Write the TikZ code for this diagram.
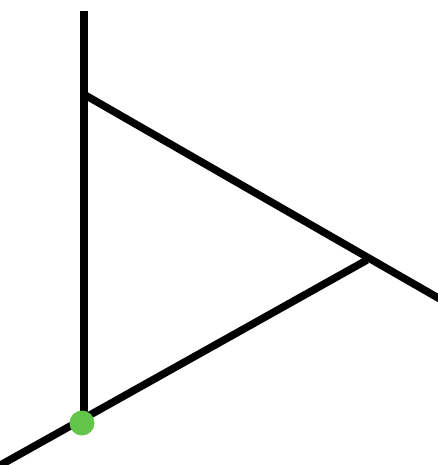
\documentclass[tikz,border=0pt]{standalone}
\definecolor{dotgreen}{RGB}{98,196,72}
\begin{document}
\begin{tikzpicture}[x=1pt,y=-1pt,
  bar/.style={line width=7.5pt,black},
  dot/.style={circle,fill=dotgreen,minimum size=25pt,inner sep=0pt}]
\useasboundingbox (0,0) rectangle (437,465);
\coordinate (top) at (84,11);
\coordinate (j1) at (85,95);
\coordinate (j2) at (367,260);
\coordinate (r) at (440,299);
\coordinate (bl) at (-3,467);
\coordinate (base) at (84,420);
\draw[bar] (top) -- (base);
\draw[bar] (j1) -- (r);
\draw[bar] (bl) -- (j2);
\node[dot] (g) at (82,423) {};
\end{tikzpicture}
\end{document}
